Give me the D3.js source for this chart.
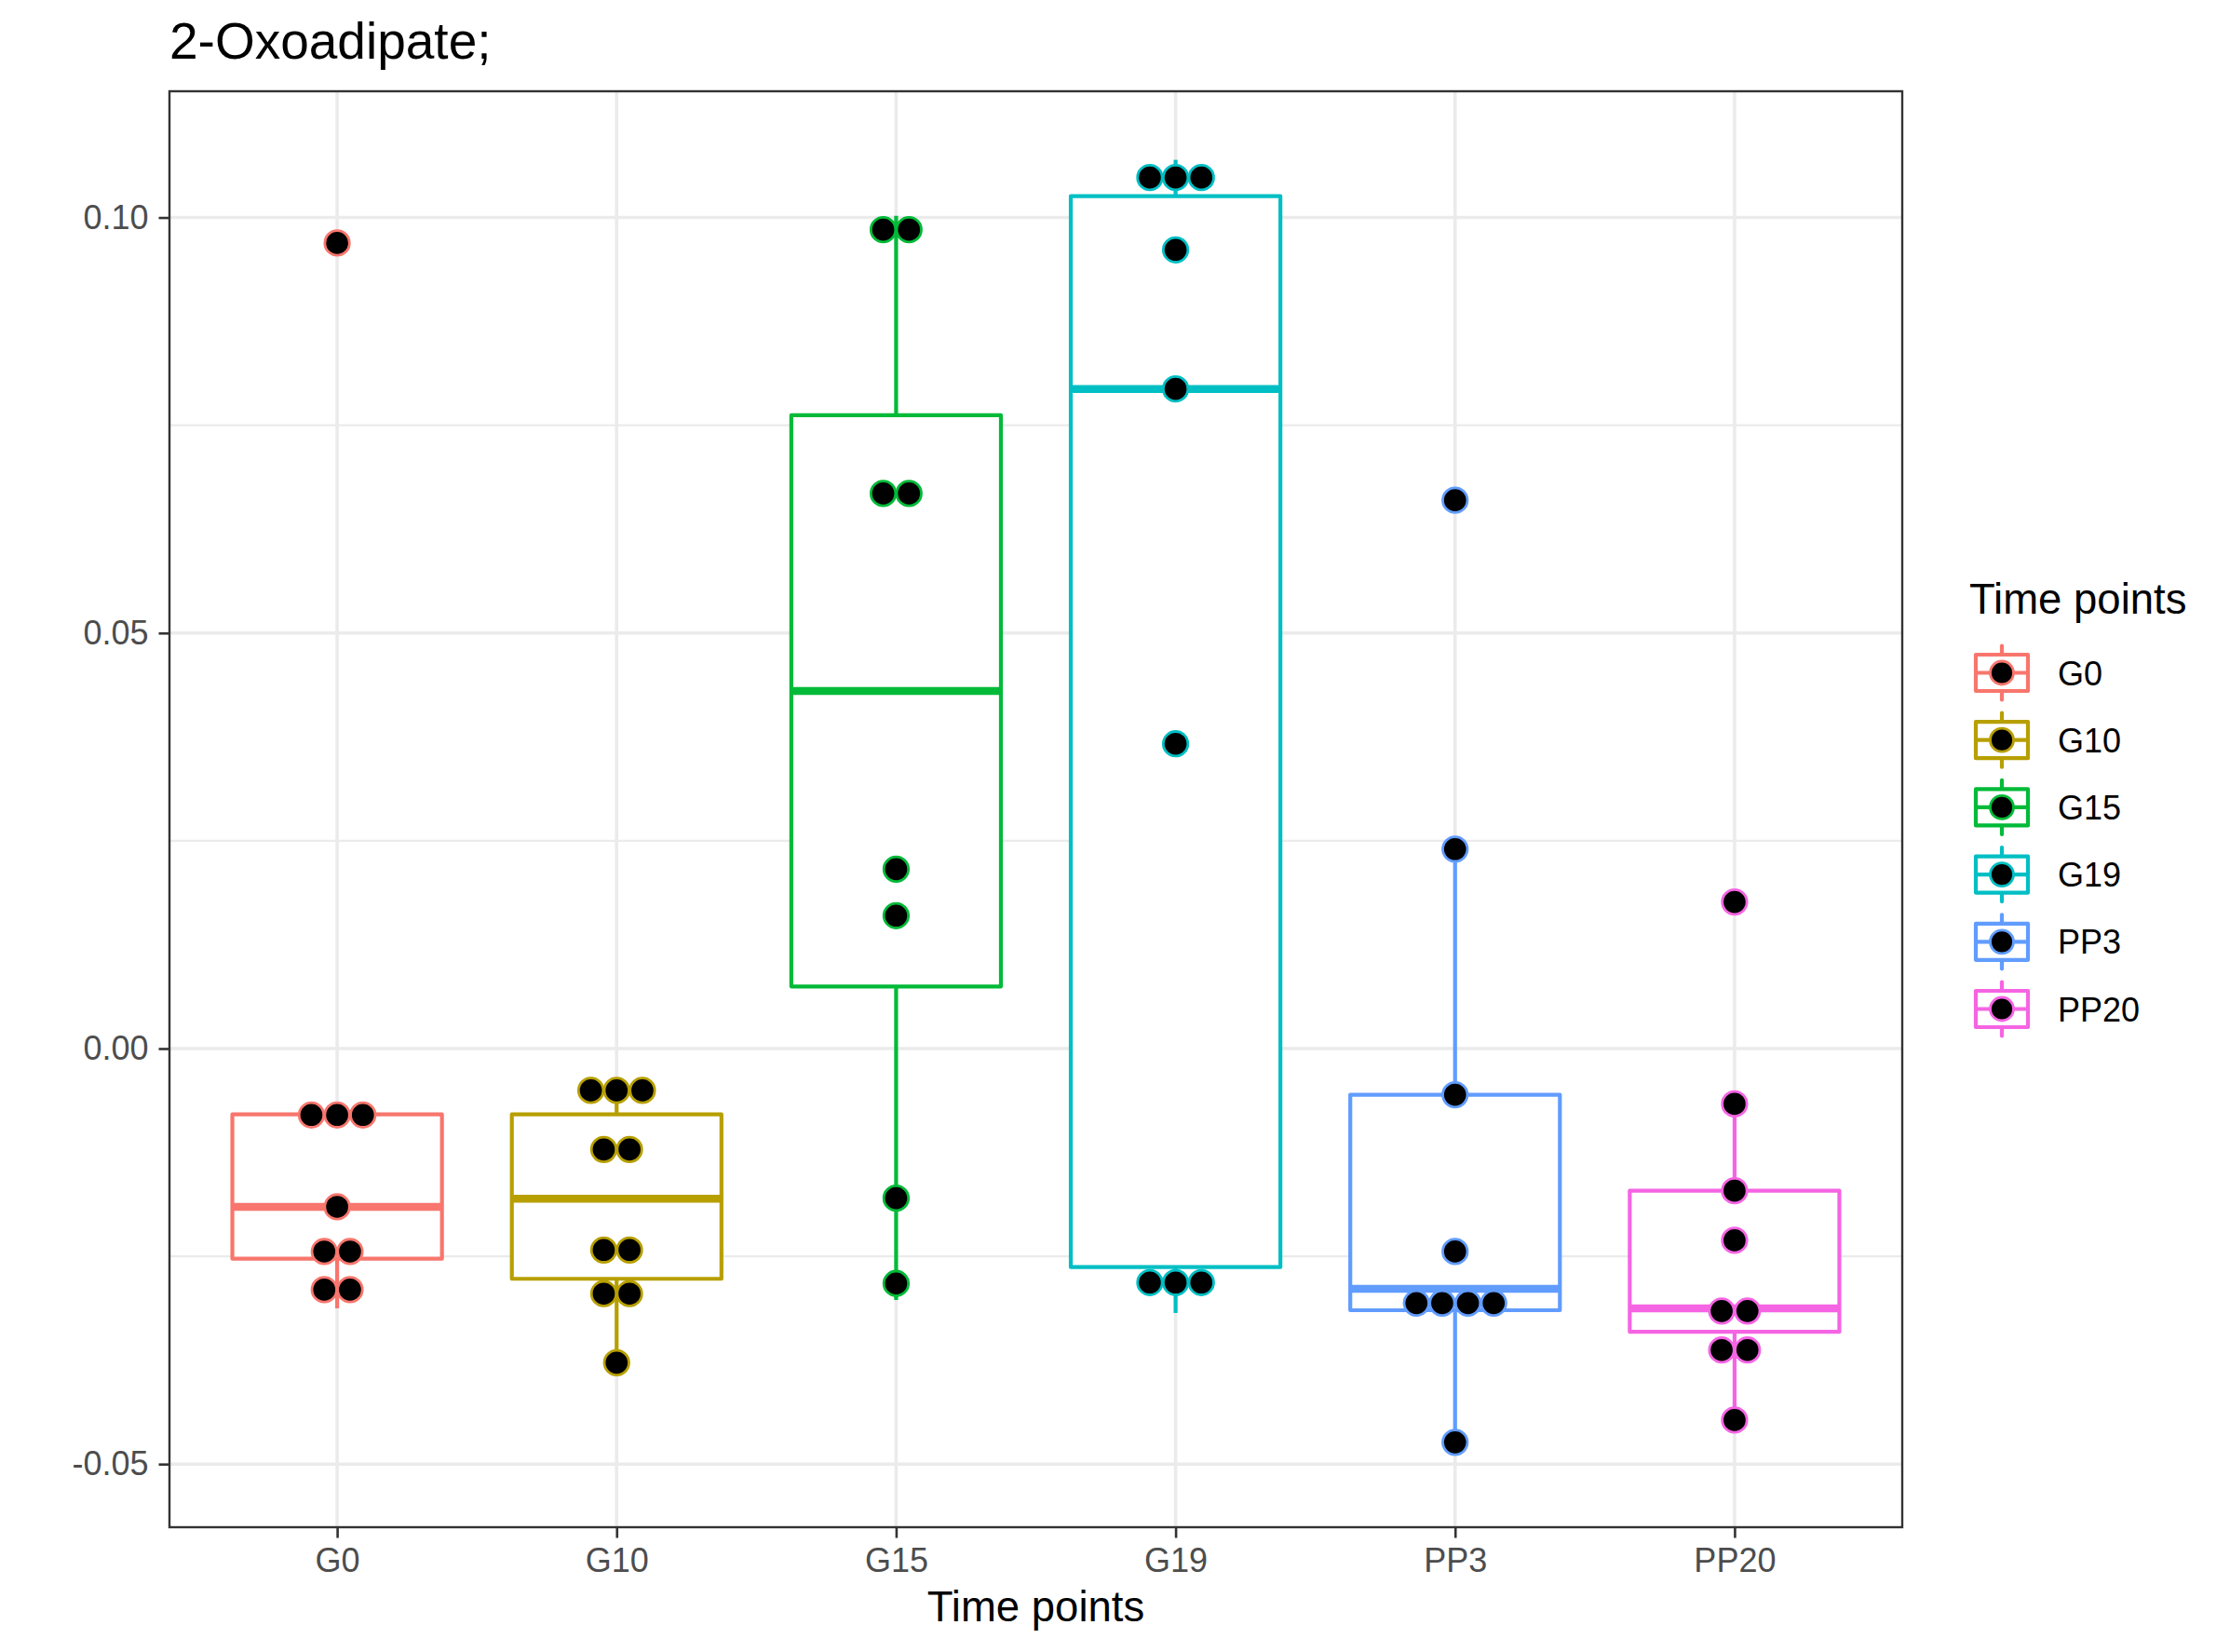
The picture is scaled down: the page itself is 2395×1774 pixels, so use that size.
<!DOCTYPE html>
<html>
<head>
<meta charset="utf-8">
<script src="https://cdn.jsdelivr.net/npm/d3@7"></script>
<style>
  html, body { margin: 0; padding: 0; background: #fff; }
  svg { display: block; font-family: "Liberation Sans", Arial, Helvetica, sans-serif; }
</style>
</head>
<body>
<svg id="chart" width="2395" height="1774"></svg>
<script>
// ---------------- data ----------------
const chartTitle = "2-Oxoadipate;";
const xTitle = "Time points";
const legendTitle = "Time points";
const categories = ["G0", "G10", "G15", "G19", "PP3", "PP20"];
const colors = ["#F8766D", "#B79F00", "#00BA38", "#00BFC4", "#619CFF", "#F564E3"];
const yTicks = [-0.05, 0.00, 0.05, 0.10];
const yTickLabels = ["-0.05", "0.00", "0.05", "0.10"];
const yMinorTicks = [-0.025, 0.025, 0.075];

// box statistics per category
const q1 = [-0.02529, -0.02771, 0.00747, -0.02630, -0.03149, -0.03409];
const median = [-0.01905, -0.01807, 0.04303, 0.07937, -0.02890, -0.03126];
const q3 = [-0.00792, -0.00792, 0.07620, 0.10257, -0.00556, -0.01711];
const whiskerLow = [-0.03126, -0.03799, -0.03026, -0.03182, -0.04738, -0.04470];
const whiskerHigh = [-0.00792, -0.00471, 0.10021, 0.10694, 0.02400, -0.00666];

// dot-plot bins (value of each stack, and number of dots in it)
const dotValues = [
  [0.09693, -0.00799, -0.01905, -0.02443, -0.02902],
  [-0.00504, -0.01214, -0.02424, -0.02950, -0.03780],
  [0.09853, 0.06679, 0.02159, 0.01599, -0.01801, -0.02827],
  [0.10481, 0.09611, 0.07937, 0.03667, -0.02816],
  [0.06598, 0.02400, -0.00556, -0.02442, -0.03063, -0.04738],
  [0.01764, -0.00666, -0.01711, -0.02308, -0.03158, -0.03628, -0.04470]
];
const dotCounts = [
  [1, 3, 1, 2, 2],
  [3, 2, 2, 2, 1],
  [2, 2, 1, 1, 1, 1],
  [3, 1, 1, 1, 3],
  [1, 1, 1, 1, 4, 1],
  [1, 1, 1, 1, 2, 2, 1]
];
const binwidth = 0.0031;

// ---------------- layout ----------------
const panel = { left: 182, right: 2043, top: 98, bottom: 1640 };
const svg = d3.select("#chart");

const x = d3.scalePoint().domain(categories).range([panel.left, panel.right]).padding(0.6);
const y = d3.scaleLinear().domain([-0.05760, 0.11519]).range([panel.bottom, panel.top]);
const color = d3.scaleOrdinal().domain(categories).range(colors);
const boxW = x.step() * 0.75;
const dotD = Math.abs(y(binwidth) - y(0));

// panel background
svg.append("rect").attr("x", panel.left).attr("y", panel.top)
  .attr("width", panel.right - panel.left).attr("height", panel.bottom - panel.top)
  .attr("fill", "#fff");

// grid
const grid = svg.append("g");
grid.selectAll(".minor").data(yMinorTicks).join("line")
  .attr("x1", panel.left).attr("x2", panel.right)
  .attr("y1", d => y(d)).attr("y2", d => y(d))
  .attr("stroke", "#EBEBEB").attr("stroke-width", 2.2);
grid.selectAll(".majory").data(yTicks).join("line")
  .attr("x1", panel.left).attr("x2", panel.right)
  .attr("y1", d => y(d)).attr("y2", d => y(d))
  .attr("stroke", "#EBEBEB").attr("stroke-width", 3.6);
grid.selectAll(".majorx").data(categories).join("line")
  .attr("x1", d => x(d)).attr("x2", d => x(d))
  .attr("y1", panel.top).attr("y2", panel.bottom)
  .attr("stroke", "#EBEBEB").attr("stroke-width", 3.6);

// boxplots
const boxes = svg.append("g");
categories.forEach((c, i) => {
  const cx = x(c), col = color(c);
  const g = boxes.append("g");
  g.append("line").attr("x1", cx).attr("x2", cx)
    .attr("y1", y(q3[i])).attr("y2", y(whiskerHigh[i]))
    .attr("stroke", col).attr("stroke-width", 4.2);
  g.append("line").attr("x1", cx).attr("x2", cx)
    .attr("y1", y(q1[i])).attr("y2", y(whiskerLow[i]))
    .attr("stroke", col).attr("stroke-width", 4.2);
  g.append("rect").attr("x", cx - boxW / 2).attr("y", y(q3[i]))
    .attr("width", boxW).attr("height", y(q1[i]) - y(q3[i]))
    .attr("fill", "#fff").attr("stroke", col).attr("stroke-width", 4.2)
    .attr("stroke-linejoin", "round");
  g.append("line").attr("x1", cx - boxW / 2).attr("x2", cx + boxW / 2)
    .attr("y1", y(median[i])).attr("y2", y(median[i]))
    .attr("stroke", col).attr("stroke-width", 8.5);
});

// dots (centred stacks)
const dots = svg.append("g");
categories.forEach((c, i) => {
  const cx = x(c), col = color(c);
  dotValues[i].forEach((v, j) => {
    const n = dotCounts[i][j];
    d3.range(n).forEach(k => {
      dots.append("circle")
        .attr("cx", cx + (k - (n - 1) / 2) * dotD)
        .attr("cy", y(v))
        .attr("r", dotD / 2 - 0.6)
        .attr("fill", "#000").attr("stroke", col).attr("stroke-width", 2.8);
    });
  });
});

// panel border
svg.append("rect").attr("x", panel.left).attr("y", panel.top)
  .attr("width", panel.right - panel.left).attr("height", panel.bottom - panel.top)
  .attr("fill", "none").attr("stroke", "#333333").attr("stroke-width", 2.4);

// axes
const yAxis = d3.axisLeft(y).tickValues(yTicks)
  .tickFormat((d, i) => yTickLabels[i]).tickSize(11.5).tickPadding(11);
const gy = svg.append("g").attr("transform", `translate(${panel.left},0)`).call(yAxis);
gy.select(".domain").remove();
gy.selectAll(".tick line").attr("stroke", "#333333").attr("stroke-width", 2.6);
gy.selectAll(".tick text").attr("fill", "#4D4D4D").attr("font-size", 36)
  .attr("font-family", "Liberation Sans, Arial, sans-serif");

const xAxis = d3.axisBottom(x).tickSize(11.5).tickPadding(11);
const gx = svg.append("g").attr("transform", `translate(0,${panel.bottom})`).call(xAxis);
gx.select(".domain").remove();
gx.selectAll(".tick line").attr("stroke", "#333333").attr("stroke-width", 2.6);
gx.selectAll(".tick text").attr("fill", "#4D4D4D").attr("font-size", 36)
  .attr("font-family", "Liberation Sans, Arial, sans-serif");

// titles
svg.append("text").attr("x", panel.left).attr("y", 63)
  .attr("font-size", 55).attr("fill", "#000").text(chartTitle);
svg.append("text").attr("x", (panel.left + panel.right) / 2).attr("y", 1741)
  .attr("text-anchor", "middle").attr("font-size", 45.5).attr("fill", "#000").text(xTitle);

// legend
const leg = svg.append("g");
leg.append("text").attr("x", 2115).attr("y", 659)
  .attr("font-size", 45.5).attr("fill", "#000").text(legendTitle);
categories.forEach((c, i) => {
  const cy = 722.5 + i * 72.2, kx = 2150, col = color(c);
  const g = leg.append("g");
  g.append("line").attr("x1", kx).attr("x2", kx).attr("y1", cy - 29).attr("y2", cy + 29)
    .attr("stroke", col).attr("stroke-width", 4.2).attr("stroke-linecap", "round");
  g.append("rect").attr("x", kx - 28).attr("y", cy - 19.5).attr("width", 56).attr("height", 39)
    .attr("fill", "#fff").attr("stroke", col).attr("stroke-width", 4.2).attr("stroke-linejoin", "round");
  g.append("line").attr("x1", kx - 28).attr("x2", kx + 28).attr("y1", cy).attr("y2", cy)
    .attr("stroke", col).attr("stroke-width", 4.2);
  g.append("circle").attr("cx", kx).attr("cy", cy).attr("r", 12.5)
    .attr("fill", "#000").attr("stroke", col).attr("stroke-width", 2.8);
  g.append("text").attr("x", 2210).attr("y", cy + 13)
    .attr("font-size", 36).attr("fill", "#000").text(c);
});
</script>
</body>
</html>
